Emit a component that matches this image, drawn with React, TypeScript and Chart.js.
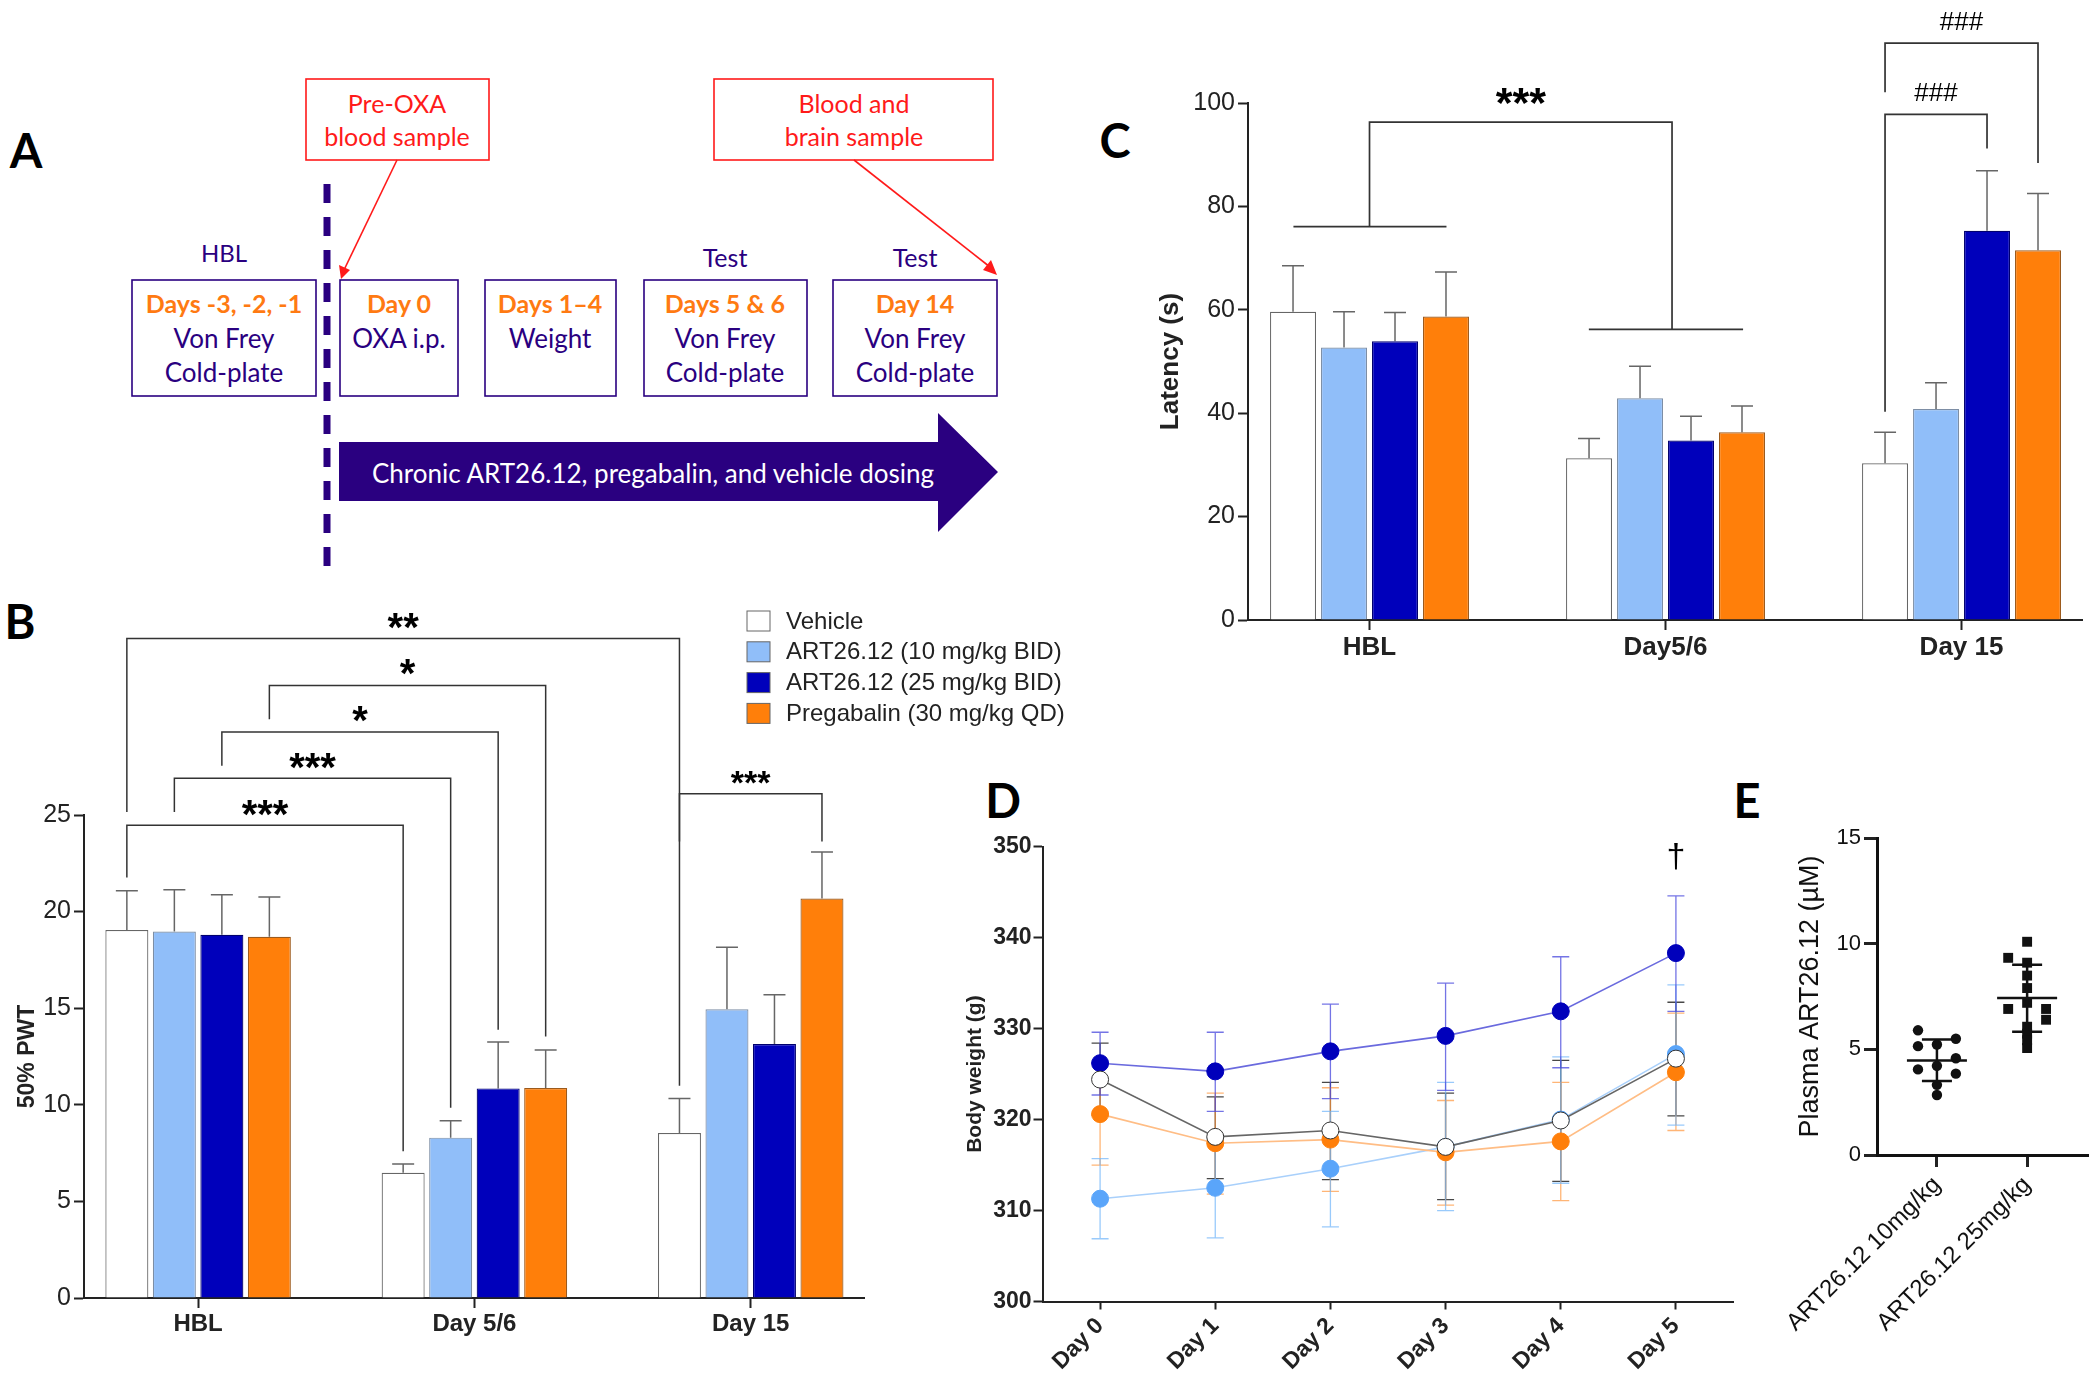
import { useEffect, useRef } from 'react';
import Chart from 'chart.js/auto';

const PAGE_W = 2100;
const PAGE_H = 1388;

// Panel B: 50% PWT
const pwtGroups = ['HBL', 'Day 5/6', 'Day 15'];
const pwtVehicle = [19.05, 6.48, 8.54];
const pwtArt10 = [18.97, 8.3, 14.94];
const pwtArt25 = [18.8, 10.85, 13.15];
const pwtPregabalin = [18.7, 10.87, 20.68];
const pwtVehicleTop = [21.08, 6.93, 10.33];
const pwtArt10Top = [21.13, 9.17, 18.15];
const pwtArt25Top = [20.87, 13.25, 15.7];
const pwtPregabalinTop = [20.76, 12.83, 23.08];

// Panel C: latency
const latencyGroups = ['HBL', 'Day5/6', 'Day 15'];
const latencyVehicle = [59.6, 31.3, 30.3];
const latencyArt10 = [52.7, 42.9, 40.8];
const latencyArt25 = [53.9, 34.7, 75.3];
const latencyPregabalin = [58.7, 36.3, 71.5];
const latencyVehicleTop = [68.5, 35.1, 36.3];
const latencyArt10Top = [59.6, 49.1, 45.9];
const latencyArt25Top = [59.5, 39.4, 86.9];
const latencyPregabalinTop = [67.3, 41.4, 82.5];

// Panel D: body weight
const weightDays = ['Day 0', 'Day 1', 'Day 2', 'Day 3', 'Day 4', 'Day 5'];
const weightVehicle = [324.4, 318.1, 318.8, 317, 319.9, 326.7];
const weightVehicleTop = [328.4, 322.5, 324.1, 322.9, 326.5, 332.9];
const weightVehicleLow = [320.5, 313.5, 313.4, 311.2, 313.2, 320.4];
const weightArt10 = [311.3, 312.5, 314.6, 317, 320, 327.2];
const weightArt10Top = [315.7, 318, 320.9, 324.1, 326.9, 334.8];
const weightArt10Low = [306.9, 307, 308.2, 310, 313, 319.4];
const weightArt25 = [326.2, 325.3, 327.5, 329.2, 331.9, 338.3];
const weightArt25Top = [329.6, 329.6, 332.7, 335, 337.9, 344.6];
const weightArt25Low = [322.7, 320.9, 322.3, 323.2, 325.7, 331.9];
const weightPregabalin = [320.6, 317.4, 317.8, 316.4, 317.6, 325.2];
const weightPregabalinTop = [326.2, 322.9, 323.5, 322.1, 324.1, 331.7];
const weightPregabalinLow = [315, 311.8, 312.1, 310.6, 311.1, 318.8];

// Panel E: plasma concentration
const plasmaGroups = ['ART26.12 10mg/kg', 'ART26.12 25mg/kg'];
const plasma10X = [0.79, 1.21, 0.79, 1, 1.21, 1, 0.79, 1.21, 1, 1];
const plasma10Y = [5.9, 5.5, 5.15, 5.23, 4.58, 4.22, 4.05, 3.85, 3.32, 2.84];
const plasma25X = [2, 1.79, 2, 2, 2, 2, 1.79, 2.21, 2.21, 2, 2, 2, 2];
const plasma25Y = [10.09, 9.33, 9.1, 8.49, 7.9, 7.2, 6.91, 6.91, 6.4, 6.07, 5.74, 5.43, 5.06];
const plasmaMean = [4.47, 7.43];
const plasmaUpper = [5.46, 9.0];
const plasmaLower = [3.5, 5.83];

const seriesNames = ['Vehicle', 'ART26.12 (10 mg/kg BID)', 'ART26.12 (25 mg/kg BID)', 'Pregabalin (30 mg/kg QD)'];
const seriesFill = ['#ffffff', '#90bef9', '#0000bb', '#ff7f0a'];
const seriesEdge = ['#666666', '#7d8ea5', '#00006e', '#9c5a1c'];

type Pos = number | [number, number];
type Bracket = {
  from: Pos;
  to: Pos;
  top: number;
  fromEnd: number;
  toEnd: number;
  label: string;
  font: string;
  dy: number;
};

const STAR = 'bold 40px "Liberation Sans"';
const pwtBrackets: Bracket[] = [
  { from: [0, 0], to: [0, 1], top: 24.47, fromEnd: 21.76, toEnd: 7.6, label: '***', font: STAR, dy: 3 },
  { from: [1, 0], to: [1, 1], top: 26.9, fromEnd: 25.16, toEnd: 9.85, label: '***', font: STAR, dy: 3 },
  { from: [2, 0], to: [2, 1], top: 29.3, fromEnd: 27.55, toEnd: 13.88, label: '*', font: STAR, dy: 2 },
  { from: [3, 0], to: [3, 1], top: 31.7, fromEnd: 29.95, toEnd: 13.54, label: '*', font: STAR, dy: 1 },
  { from: [0, 0], to: [0, 2], top: 34.14, fromEnd: 25.16, toEnd: 23.63, label: '**', font: STAR, dy: 3 },
  { from: [0, 2], to: [3, 2], top: 26.1, fromEnd: 10.98, toEnd: 23.63, label: '***', font: 'bold 34px "Liberation Sans"', dy: 0 },
];

const HASH = '26px "Liberation Sans"';
const latencyBrackets: Bracket[] = [
  { from: 1, to: 2.022, top: 96.3, fromEnd: 76.1, toEnd: 56.2, label: '***', font: 'bold 43px "Liberation Sans"', dy: -5 },
  { from: [0, 2], to: [2, 2], top: 97.8, fromEnd: 40.3, toEnd: 91.2, label: '###', font: HASH, dy: -13 },
  { from: [0, 2], to: [3, 2], top: 111.6, fromEnd: 102.1, toEnd: 88.4, label: '###', font: HASH, dy: -13 },
];
// x start, x end, y of the two long bars under the *** bracket
const latencyGroupBars = [
  [0.743, 1.26, 76.1],
  [1.741, 2.262, 56.2],
];

const timelineBoxes = [
  { x: 132, w: 184, cx: 224, lines: ['Days -3, -2, -1', 'Von Frey', 'Cold-plate'] },
  { x: 340, w: 118, cx: 399, lines: ['Day 0', 'OXA i.p.'] },
  { x: 485, w: 131, cx: 550, lines: ['Days 1–4', 'Weight'] },
  { x: 644, w: 163, cx: 725, lines: ['Days 5 & 6', 'Von Frey', 'Cold-plate'] },
  { x: 833, w: 164, cx: 915, lines: ['Day 14', 'Von Frey', 'Cold-plate'] },
];
const panelLetters = [
  { t: 'A', x: 26, y: 168 },
  { t: 'B', x: 20, y: 639 },
  { t: 'C', x: 1115, y: 158 },
  { t: 'D', x: 1003, y: 818 },
  { t: 'E', x: 1747, y: 818 },
];

const INK = '#222222';
const PURPLE = '#2a0080';
const RED = '#ff1a1a';

const fitSize = (size: number) => (scale: any) => {
  if (scale.isHorizontal()) scale.height = size;
  else scale.width = size;
};

const gridOf = (tickLength: number, width = 2) => ({
  drawOnChartArea: false,
  drawTicks: true,
  offset: false,
  tickLength,
  tickWidth: width,
  tickColor: INK,
});

// places the plot area at page pixels
const paddingFor = (left: number, top: number, right: number, bottom: number, yW: number, xH: number) => ({
  left: left - yW,
  top,
  right: PAGE_W - right,
  bottom: PAGE_H - bottom - xH,
});

const errorBars = (capHalf: number, lineWidth: number) => ({
  id: 'errorBars',
  beforeDatasetsDraw(chart: any) {
    const { ctx, scales } = chart;
    chart.data.datasets.forEach((ds: any, d: number) => {
      if (!ds.errTop) return;
      const meta = chart.getDatasetMeta(d);
      ctx.save();
      ctx.strokeStyle = ds.errColor;
      ctx.lineWidth = lineWidth;
      meta.data.forEach((el: any, i: number) => {
        const yTop = scales.y.getPixelForValue(ds.errTop[i]);
        const yLow = ds.errLow ? scales.y.getPixelForValue(ds.errLow[i]) : el.y;
        ctx.beginPath();
        ctx.moveTo(el.x, yLow);
        ctx.lineTo(el.x, yTop);
        ctx.moveTo(el.x - capHalf, yTop);
        ctx.lineTo(el.x + capHalf, yTop);
        if (ds.errLow) {
          ctx.moveTo(el.x - capHalf, yLow);
          ctx.lineTo(el.x + capHalf, yLow);
        }
        ctx.stroke();
      });
      ctx.restore();
    });
  },
});

const brackets = (list: Bracket[], lineWidth: number) => ({
  id: 'brackets',
  afterDatasetsDraw(chart: any) {
    const { ctx, scales } = chart;
    const px = (p: Pos) =>
      typeof p === 'number' ? scales.x.getPixelForValue(p) : chart.getDatasetMeta(p[0]).data[p[1]].x;
    list.forEach((b) => {
      const x1 = px(b.from);
      const x2 = px(b.to);
      const yTop = scales.y.getPixelForValue(b.top);
      ctx.save();
      ctx.strokeStyle = '#333333';
      ctx.lineWidth = lineWidth;
      ctx.beginPath();
      ctx.moveTo(x1, scales.y.getPixelForValue(b.fromEnd));
      ctx.lineTo(x1, yTop);
      ctx.lineTo(x2, yTop);
      ctx.lineTo(x2, scales.y.getPixelForValue(b.toEnd));
      ctx.stroke();
      ctx.fillStyle = '#000000';
      ctx.font = b.font;
      ctx.textAlign = 'center';
      ctx.textBaseline = 'alphabetic';
      ctx.fillText(b.label, (x1 + x2) / 2, yTop + b.dy);
      ctx.restore();
    });
  },
});

const seriesLegend = {
  id: 'seriesLegend',
  afterDraw(chart: any) {
    const { ctx } = chart;
    chart.data.datasets.forEach((ds: any, i: number) => {
      const y = 621 + i * 30.8;
      ctx.save();
      ctx.fillStyle = ds.backgroundColor;
      ctx.strokeStyle = '#666666';
      ctx.lineWidth = 1;
      ctx.fillRect(747, y - 10, 23, 20);
      ctx.strokeRect(747, y - 10, 23, 20);
      ctx.fillStyle = INK;
      ctx.font = '24px "Liberation Sans"';
      ctx.textAlign = 'left';
      ctx.textBaseline = 'middle';
      ctx.fillText(ds.label, 786, y + 1);
      ctx.restore();
    });
  },
};

const groupBarsConfig = (opts: {
  labels: string[];
  values: number[][];
  tops: number[][];
  min: number;
  max: number;
  area: [number, number, number, number];
  yW: number;
  xH: number;
  yMax: number;
  yStep: number;
  yTitle: string;
  titleSize: number;
  xFontSize: number;
  catPct: number;
  barPct: number;
  plugins: any[];
}) => {
  const [left, top, right, bottom] = opts.area;
  return {
    type: 'bar',
    data: {
      datasets: opts.values.map((vals, s) => ({
        label: seriesNames[s],
        data: vals.map((y, i) => ({ x: i + 1, y })),
        backgroundColor: seriesFill[s],
        borderColor: seriesEdge[s],
        borderWidth: 1.2,
        errTop: opts.tops[s],
        errColor: '#666666',
      })),
    },
    options: {
      responsive: false,
      animation: false,
      events: [],
      categoryPercentage: opts.catPct,
      barPercentage: opts.barPct,
      layout: { padding: paddingFor(left, top, right, bottom, opts.yW, opts.xH) },
      plugins: { legend: { display: false }, tooltip: { enabled: false } },
      scales: {
        x: {
          type: 'linear',
          offset: false,
          min: opts.min,
          max: opts.max,
          afterFit: fitSize(opts.xH),
          afterBuildTicks: (s: any) => {
            s.ticks = opts.labels.map((_, i) => ({ value: i + 1 }));
          },
          grid: gridOf(10),
          border: { color: INK, width: 2 },
          ticks: {
            callback: (v: number) => opts.labels[v - 1],
            autoSkip: false,
            maxRotation: 0,
            minRotation: 0,
            padding: 2,
            color: INK,
            font: { family: 'Liberation Sans', size: opts.xFontSize, weight: 'bold' },
          },
        },
        y: {
          min: 0,
          max: opts.yMax,
          afterFit: fitSize(opts.yW),
          grid: gridOf(10),
          border: { color: INK, width: 2 },
          title: {
            display: true,
            text: opts.yTitle,
            color: INK,
            padding: 0,
            font: { family: 'Liberation Sans', size: opts.titleSize, weight: 'bold' },
          },
          ticks: {
            stepSize: opts.yStep,
            padding: 3,
            color: INK,
            font: { family: 'Liberation Sans', size: 25 },
          },
        },
      },
    },
    plugins: opts.plugins,
  };
};

const pwtConfig = groupBarsConfig({
  labels: pwtGroups,
  values: [pwtVehicle, pwtArt10, pwtArt25, pwtPregabalin],
  tops: [pwtVehicleTop, pwtArt10Top, pwtArt25Top, pwtPregabalinTop],
  min: 0.587,
  max: 3.41,
  area: [84, 815, 864, 1298],
  yW: 70,
  xH: 60,
  yMax: 25,
  yStep: 5,
  yTitle: '50% PWT',
  titleSize: 23,
  xFontSize: 24,
  catPct: 0.6877,
  barPct: 0.905,
  plugins: [errorBars(11, 1.5), brackets(pwtBrackets, 1.5), seriesLegend],
});

const latencyConfig = groupBarsConfig({
  labels: latencyGroups,
  values: [latencyVehicle, latencyArt10, latencyArt25, latencyPregabalin],
  tops: [latencyVehicleTop, latencyArt10Top, latencyArt25Top, latencyPregabalinTop],
  min: 0.5895,
  max: 3.407,
  area: [1248, 103, 2082, 620],
  yW: 93,
  xH: 60,
  yMax: 100,
  yStep: 20,
  yTitle: 'Latency (s)',
  titleSize: 26,
  xFontSize: 26,
  catPct: 0.689,
  barPct: 0.902,
  plugins: [
    errorBars(11, 1.5),
    brackets(latencyBrackets, 1.7),
    {
      id: 'groupBars',
      afterDatasetsDraw(chart: any) {
        const { ctx, scales } = chart;
        ctx.save();
        ctx.strokeStyle = '#333333';
        ctx.lineWidth = 1.7;
        latencyGroupBars.forEach(([a, b, y]) => {
          ctx.beginPath();
          ctx.moveTo(scales.x.getPixelForValue(a), scales.y.getPixelForValue(y));
          ctx.lineTo(scales.x.getPixelForValue(b), scales.y.getPixelForValue(y));
          ctx.stroke();
        });
        ctx.restore();
      },
    },
  ],
});

const weightLine = (
  data: number[],
  top: number[],
  low: number[],
  line: string,
  point: string,
  edge: string,
  err: string,
) => ({
  data,
  errTop: top,
  errLow: low,
  errColor: err,
  borderColor: line,
  borderWidth: 1.6,
  tension: 0,
  pointRadius: 8.5,
  pointBackgroundColor: point,
  pointBorderColor: edge,
  pointBorderWidth: 1,
});

const weightConfig = {
  type: 'line',
  data: {
    labels: weightDays,
    // first dataset is drawn on top
    datasets: [
      weightLine(weightVehicle, weightVehicleTop, weightVehicleLow, '#666666', '#ffffff', '#333333', 'rgba(40,40,40,0.85)'),
      weightLine(weightPregabalin, weightPregabalinTop, weightPregabalinLow, '#ffbd85', '#ff7f0a', '#ff7f0a', 'rgba(255,150,60,0.7)'),
      weightLine(weightArt10, weightArt10Top, weightArt10Low, '#a9d0fb', '#5aa5fa', '#5aa5fa', 'rgba(110,180,250,0.7)'),
      weightLine(weightArt25, weightArt25Top, weightArt25Low, '#6a6ade', '#0000bb', '#0000bb', 'rgba(70,70,220,0.75)'),
    ],
  },
  options: {
    responsive: false,
    animation: false,
    events: [],
    layout: { padding: paddingFor(1042.5, 846.7, 1733.5, 1301.5, 80, 75) },
    plugins: { legend: { display: false }, tooltip: { enabled: false } },
    scales: {
      x: {
        offset: true,
        afterFit: fitSize(75),
        grid: gridOf(8),
        border: { color: INK, width: 2 },
        ticks: {
          maxRotation: 45,
          minRotation: 45,
          autoSkip: false,
          padding: 3,
          color: INK,
          font: { family: 'Liberation Sans', size: 23, weight: 'bold' },
        },
      },
      y: {
        min: 300,
        max: 350,
        afterFit: fitSize(80),
        grid: gridOf(9),
        border: { color: INK, width: 2 },
        title: {
          display: true,
          text: 'Body weight (g)',
          color: INK,
          padding: 0,
          font: { family: 'Liberation Sans', size: 21, weight: 'bold' },
        },
        ticks: {
          stepSize: 10,
          padding: 2,
          color: INK,
          font: { family: 'Liberation Sans', size: 23, weight: 'bold' },
        },
      },
    },
  },
  plugins: [
    errorBars(8.5, 1.3),
    {
      id: 'dagger',
      afterDatasetsDraw(chart: any) {
        const { ctx, scales } = chart;
        ctx.save();
        ctx.fillStyle = '#000000';
        ctx.font = '34px "Liberation Sans"';
        ctx.textAlign = 'center';
        ctx.textBaseline = 'middle';
        ctx.fillText('†', scales.x.getPixelForValue(5), scales.y.getPixelForValue(348.8));
        ctx.restore();
      },
    },
  ],
};

const plasmaConfig = {
  type: 'scatter',
  data: {
    datasets: [
      {
        data: plasma10X.map((x, i) => ({ x, y: plasma10Y[i] })),
        backgroundColor: '#111111',
        pointStyle: 'circle',
        pointRadius: 5.2,
        borderWidth: 0,
      },
      {
        data: plasma25X.map((x, i) => ({ x, y: plasma25Y[i] })),
        backgroundColor: '#111111',
        pointStyle: 'rect',
        pointRadius: 7,
        borderWidth: 0,
      },
    ],
  },
  options: {
    responsive: false,
    animation: false,
    events: [],
    layout: { padding: paddingFor(1877, 838, 2088, 1155, 83, 185) },
    plugins: { legend: { display: false }, tooltip: { enabled: false } },
    scales: {
      x: {
        type: 'linear',
        min: 0.3355,
        max: 2.675,
        afterFit: fitSize(185),
        afterBuildTicks: (s: any) => {
          s.ticks = plasmaGroups.map((_, i) => ({ value: i + 1 }));
        },
        grid: gridOf(12, 3),
        border: { color: '#111111', width: 3 },
        ticks: {
          callback: (v: number) => plasmaGroups[v - 1],
          autoSkip: false,
          maxRotation: 45,
          minRotation: 45,
          padding: 4,
          color: '#111111',
          font: { family: 'Liberation Sans', size: 24 },
        },
      },
      y: {
        min: 0,
        max: 15,
        afterFit: fitSize(83),
        grid: gridOf(13, 3),
        border: { color: '#111111', width: 3 },
        title: {
          display: true,
          text: 'Plasma ART26.12 (µM)',
          color: '#111111',
          padding: 0,
          font: { family: 'Liberation Sans', size: 27 },
        },
        ticks: {
          stepSize: 5,
          padding: 3,
          color: '#111111',
          font: { family: 'Liberation Sans', size: 22 },
        },
      },
    },
  },
  plugins: [
    {
      id: 'meanSd',
      afterDatasetsDraw(chart: any) {
        const { ctx, scales } = chart;
        ctx.save();
        ctx.strokeStyle = '#111111';
        ctx.lineWidth = 2.5;
        plasmaMean.forEach((mean, i) => {
          const x = scales.x.getPixelForValue(i + 1);
          const yM = scales.y.getPixelForValue(mean);
          const yU = scales.y.getPixelForValue(plasmaUpper[i]);
          const yL = scales.y.getPixelForValue(plasmaLower[i]);
          ctx.beginPath();
          ctx.moveTo(x - 30, yM);
          ctx.lineTo(x + 30, yM);
          ctx.moveTo(x, yU);
          ctx.lineTo(x, yL);
          ctx.moveTo(x - 15, yU);
          ctx.lineTo(x + 15, yU);
          ctx.moveTo(x - 15, yL);
          ctx.lineTo(x + 15, yL);
          ctx.stroke();
        });
        ctx.restore();
      },
    },
  ],
};

function Panel({ config }: { config: any }) {
  const ref = useRef<HTMLCanvasElement | null>(null);

  useEffect(() => {
    if (!ref.current) return;
    const chart = new Chart(ref.current, config);
    return () => chart.destroy();
  }, [config]);

  return (
    <canvas
      ref={ref}
      width={PAGE_W}
      height={PAGE_H}
      style={{ position: 'absolute', left: 0, top: 0, width: PAGE_W, height: PAGE_H }}
    />
  );
}

function Timeline() {
  const font = 'Lato';
  return (
    <svg width={PAGE_W} height={PAGE_H} style={{ position: 'absolute', left: 0, top: 0 }} fontFamily={font} fontSize={24}>
      {panelLetters.map((l) => (
        <text key={l.t} x={l.x} y={l.y} textAnchor="middle" fontSize={47} fontWeight={700} fill="#000">
          {l.t}
        </text>
      ))}

      <rect x={306} y={79} width={183} height={81} fill="none" stroke={RED} strokeWidth={1.6} />
      <text x={397} y={113} textAnchor="middle" fill={RED} fontSize={25}>Pre-OXA</text>
      <text x={397} y={146} textAnchor="middle" fill={RED} fontSize={25}>blood sample</text>
      <rect x={714} y={79} width={279} height={81} fill="none" stroke={RED} strokeWidth={1.6} />
      <text x={854} y={113} textAnchor="middle" fill={RED} fontSize={25}>Blood and</text>
      <text x={854} y={146} textAnchor="middle" fill={RED} fontSize={25}>brain sample</text>

      <line x1={397} y1={160} x2={344} y2={270} stroke={RED} strokeWidth={1.6} />
      <polygon points="341,279 339,265 350,270" fill={RED} />
      <line x1={854} y1={160} x2={990} y2={267} stroke={RED} strokeWidth={1.6} />
      <polygon points="997,275 983,270 991,260" fill={RED} />

      <line x1={327} y1={184} x2={327} y2={570} stroke={PURPLE} strokeWidth={7} strokeDasharray="19 14" />

      <text x={224} y={262} textAnchor="middle" fill={PURPLE}>HBL</text>
      <text x={725} y={267} textAnchor="middle" fill={PURPLE} fontSize={25}>Test</text>
      <text x={915} y={267} textAnchor="middle" fill={PURPLE} fontSize={25}>Test</text>

      {timelineBoxes.map((b) => (
        <g key={b.x}>
          <rect x={b.x} y={280} width={b.w} height={116} fill="none" stroke={PURPLE} strokeWidth={1.6} />
          {b.lines.map((t, i) => (
            <text
              key={t}
              x={b.cx}
              y={313 + i * 34.5}
              textAnchor="middle"
              fill={i === 0 ? '#ff7a12' : PURPLE}
              fontWeight={i === 0 ? 700 : 400}
              fontSize={i === 0 ? 25 : 26}
            >
              {t}
            </text>
          ))}
        </g>
      ))}

      <polygon points="339,442 938,442 938,413 998,472 938,532 938,501 339,501" fill={PURPLE} />
      <text x={653} y={483} textAnchor="middle" fill="#ffffff" fontSize={26}>
        Chronic ART26.12, pregabalin, and vehicle dosing
      </text>
    </svg>
  );
}

export default function App() {
  return (
    <div style={{ position: 'absolute', left: 0, top: 0, width: PAGE_W, height: PAGE_H, background: '#ffffff', overflow: 'hidden' }}>
      <Timeline />
      <Panel config={pwtConfig} />
      <Panel config={latencyConfig} />
      <Panel config={weightConfig} />
      <Panel config={plasmaConfig} />
    </div>
  );
}
